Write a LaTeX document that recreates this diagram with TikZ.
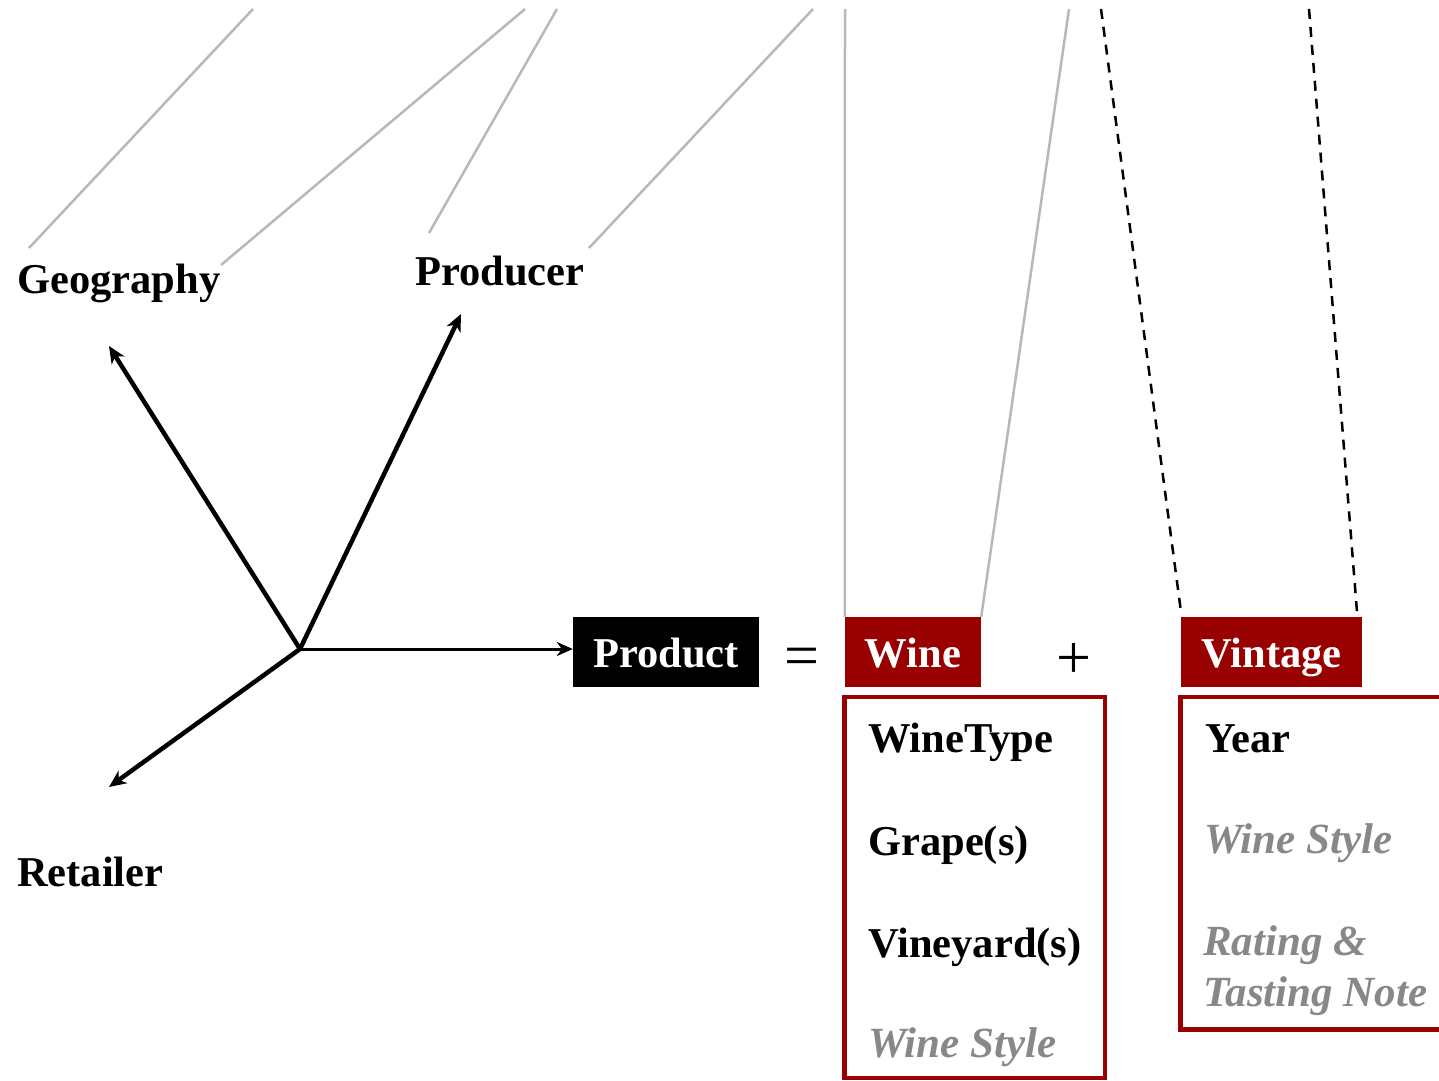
\documentclass[tikz,border=0pt]{standalone}
\usepackage{fontspec}
\setmainfont{Liberation Serif}
\usetikzlibrary{arrows.meta}
\definecolor{winered}{HTML}{990000}
\definecolor{attgray}{HTML}{888888}
\definecolor{zoomgray}{HTML}{B8B8B8}
\begin{document}
\begin{tikzpicture}[x=1pt,y=-1pt,
  lbl/.style={font=\fontsize{42.5}{48}\selectfont\bfseries, inner sep=0pt, anchor=base west},
  soft/.style={lbl, font=\fontsize{43}{48}\selectfont\bfseries\itshape, text=attgray},
  hdr/.style={font=\fontsize{42.5}{48}\selectfont\bfseries, text=white, inner sep=0pt,
    minimum height=70pt, text height=30pt, text depth=0pt},
  opsym/.style={font=\fontsize{62}{66}\selectfont, inner sep=0pt},
  zoomline/.style={draw=zoomgray, line width=2.5pt},
  zoomdash/.style={draw=black, line width=2.5pt, dash pattern=on 10pt off 8pt},
  arr/.style={line width=4.5pt, -{Stealth[length=17pt,width=15pt,inset=5pt]}},
  thinarr/.style={line width=3pt, -{Stealth[length=16pt,width=14pt,inset=5pt]}},
  attrbox/.style={draw=winered, line width=4.5pt}
]
\useasboundingbox (0,0) rectangle (1439,1080);

% headers
\node[hdr, fill=black, minimum width=186pt] (prod) at (666,652) {Product};
\node[hdr, fill=winered, minimum width=136pt] (wine) at (913,652) {Wine};
\node[hdr, fill=winered, minimum width=181pt] (vint) at (1271.5,652) {Vintage};
\node[opsym] (eq) at (802,662) {=};
\node[opsym] (plus) at (1074,661) {+};

% labels
\node[lbl] (geo) at (17,293) {Geography};
\node[lbl] (producer) at (415,285) {Producer};
\node[lbl] (retail) at (17,886) {Retailer};

% arrows
\coordinate (hub) at (300,649);
\coordinate (geoTip) at (109,346);
\coordinate (prodTip) at (461,314);
\coordinate (retTip) at (109,787);
\draw[arr] (hub) -- (geoTip);
\draw[arr] (hub) -- (prodTip);
\draw[arr] (hub) -- (retTip);
\draw[thinarr] (hub) -- (hub -| prod.west);

% attribute boxes
\draw[attrbox] (844.5,697) rectangle (1105,1078);
\draw[attrbox] (1180.5,697) rectangle (1450,1029.5);

\node[lbl] (wt) at (868,752) {WineType};
\node[lbl] (gr) at (868,855) {Grape(s)};
\node[lbl] (vy) at (868,957) {Vineyard(s)};
\node[soft] (ws1) at (868,1057) {Wine Style};

\node[lbl] (yr) at (1205,752) {Year};
\node[soft] (ws2) at (1204,853) {Wine Style};
\node[soft] (rt) at (1203,955) {Rating \&};
\node[soft] (tn) at (1203,1006) {Tasting Note};

% zoom lines
\coordinate (t1) at (253,9);
\coordinate (b1) at (29,248);
\coordinate (t2) at (525,9);
\coordinate (b2) at (221,265);
\coordinate (t3) at (557,9);
\coordinate (b3) at (429,233);
\coordinate (t4) at (813,9);
\coordinate (b4) at (589,248);
\coordinate (t5) at (845,9);
\coordinate (t6) at (1069,9);
\coordinate (t7) at (1101,9);
\coordinate (b7) at (1181,612);
\coordinate (t8) at (1309,9);
\coordinate (b8) at (1357,612);
\draw[zoomline] (t1) -- (b1);
\draw[zoomline] (t2) -- (b2);
\draw[zoomline] (t3) -- (b3);
\draw[zoomline] (t4) -- (b4);
\draw[zoomline] (t5) -- (wine.north west);
\draw[zoomline] (t6) -- (wine.north east);
\draw[zoomdash] (t7) -- (b7);
\draw[zoomdash] (t8) -- (b8);
\end{tikzpicture}
\end{document}
